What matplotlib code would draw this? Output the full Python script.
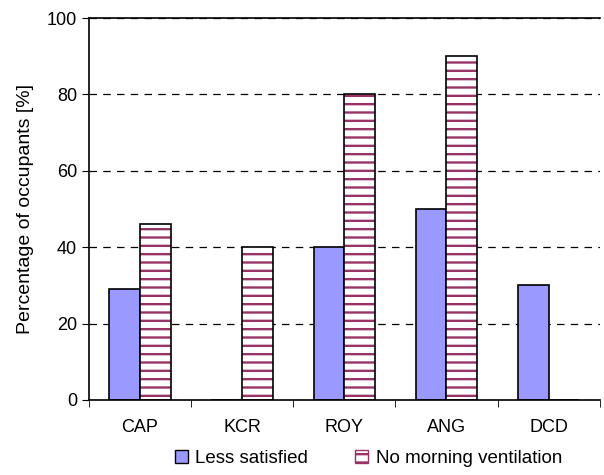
import matplotlib
matplotlib.use('Agg')
import matplotlib.pyplot as plt
from matplotlib.patches import Patch
import numpy as np

plt.rcParams['font.family'] = ['Liberation Sans', 'DejaVu Sans']
plt.rcParams['hatch.linewidth'] = 1.7

sitios = ['CAP', 'KCR', 'ROY', 'ANG', 'DCD']
menos_satisfechos = [29, 0, 40, 50, 30]
sin_ventilacion = [46, 40, 80, 90, 0]

color_azul = '#9999FF'
color_rayas = '#993366'

fig = plt.figure(figsize=(6.04, 4.75), dpi=100)
ax = fig.add_axes([0.147, 0.158, 0.846, 0.804])

x = np.arange(len(sitios))
ancho = 0.3

# barras azules
ax.bar(x - ancho / 2, menos_satisfechos, ancho, color=color_azul,
       edgecolor='black', linewidth=1.2, zorder=3)

# barras rayadas: primero el rayado, luego el borde negro
ax.bar(x + ancho / 2, sin_ventilacion, ancho, color='white',
       edgecolor=color_rayas, hatch='--', linewidth=0, zorder=3)
ax.bar(x + ancho / 2, sin_ventilacion, ancho, fill=False,
       edgecolor='black', linewidth=1.2, zorder=4)

ax.set_xlim(-0.5, len(sitios) - 0.5)
ax.set_ylim(0, 100)
ax.set_yticks([0, 20, 40, 60, 80, 100])
ax.set_xticks(x)
ax.set_xticklabels(sitios, fontsize=13)
ax.set_xticks(np.arange(-0.5, len(sitios)), minor=True)
ax.tick_params(axis='x', which='major', length=0, pad=14)
ax.tick_params(axis='x', which='minor', length=5, direction='out')
ax.tick_params(axis='y', length=5, direction='out', labelsize=13)

ax.yaxis.grid(True, linestyle=(0, (6, 5)), color='black', linewidth=0.9, zorder=0)
ax.set_axisbelow(True)
ax.spines['right'].set_visible(False)
for s in ['left', 'bottom', 'top']:
    ax.spines[s].set_linewidth(1.2)
    ax.spines[s].set_zorder(5)

ax.set_ylabel('Percentage of occupants [%]', fontsize=14, labelpad=9)

handles = [
    Patch(facecolor=color_azul, edgecolor='black', label='Less satisfied'),
    Patch(facecolor='white', edgecolor=color_rayas, hatch='--', label='No morning ventilation'),
]
fig.legend(handles=handles, loc='center', bbox_to_anchor=(0.61, 0.035), ncol=2,
           frameon=False, fontsize=13.5, handlelength=0.7, handleheight=0.7,
           handletextpad=0.4, columnspacing=2.5)

plt.savefig('out.png', dpi=100)
plt.close()
